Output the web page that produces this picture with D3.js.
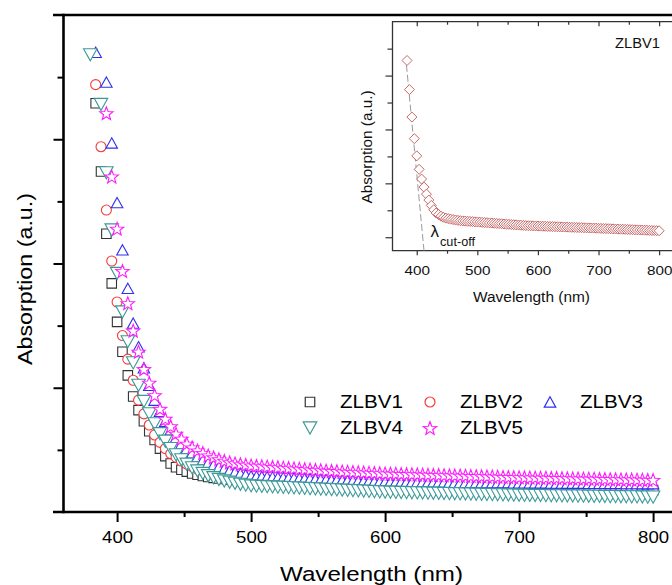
<!DOCTYPE html>
<html>
<head>
<meta charset="utf-8">
<script src="https://cdn.jsdelivr.net/npm/d3@7"></script>
<style>
  body { margin: 0; background: #fff; }
  svg { display: block; font-family: "Liberation Sans", Arial, sans-serif; }
</style>
</head>
<body>
<div id="chart"></div>
<script>
// wavelength grid (nm) shared by the five main series
var wavelengths = [
  380,384,388,392,396,400,404,408,412,416,
  420,424,428,432,436,440,444,448,452,456,
  460,464,468,472,476,480,484,488,492,496,
  500,504,508,512,516,520,524,528,532,536,
  540,544,548,552,556,560,564,568,572,576,
  580,584,588,592,596,600,604,608,612,616,
  620,624,628,632,636,640,644,648,652,656,
  660,664,668,672,676,680,684,688,692,696,
  700,704,708,712,716,720,724,728,732,736,
  740,744,748,752,756,760,764,768,772,776,
  780,784,788,792,796,800]

// absorption (a.u.), null = no point
var zlbv1 = [
  null,3.29,2.74,2.24,1.84,1.53,1.29,1.10,0.93,0.82,
  0.73,0.65,0.58,0.51,0.45,0.39,0.36,0.34,0.325,0.31,
  0.30,0.29,0.282,0.275,0.27,0.265,0.261,0.258,0.255,0.252,
  0.25,0.248,0.246,0.244,0.242,0.24,0.238,0.236,0.234,0.232,
  0.23,0.228,0.226,0.224,0.222,0.22,0.218,0.216,0.214,0.212,
  0.21,0.208,0.206,0.204,0.202,0.2,0.199,0.199,0.198,0.197,
  0.197,0.196,0.195,0.195,0.194,0.193,0.193,0.192,0.191,0.191,
  0.19,0.189,0.189,0.188,0.188,0.187,0.186,0.186,0.185,0.185,
  0.184,0.184,0.184,0.183,0.183,0.183,0.182,0.182,0.182,0.181,
  0.181,0.181,0.18,0.18,0.18,0.179,0.179,0.179,0.178,0.178,
  0.178,0.177,0.177,0.177,0.176,0.176]

var zlbv2 = [
  null,3.44,2.94,2.43,2.02,1.69,1.42,1.23,1.06,0.90,
  0.79,0.70,0.62,0.56,0.51,0.47,0.44,0.41,0.385,0.365,
  0.345,0.33,0.315,0.30,0.29,0.28,0.272,0.266,0.261,0.258,
  0.255,0.253,0.251,0.249,0.247,0.245,0.243,0.241,0.239,0.237,
  0.235,0.233,0.231,0.229,0.227,0.225,0.223,0.221,0.219,0.217,
  0.215,0.213,0.211,0.209,0.207,0.205,0.204,0.204,0.203,0.202,
  0.202,0.201,0.2,0.2,0.199,0.198,0.198,0.197,0.196,0.196,
  0.195,0.194,0.194,0.193,0.192,0.192,0.191,0.19,0.19,0.189,
  0.188,0.188,0.188,0.187,0.187,0.187,0.186,0.186,0.186,0.185,
  0.185,0.185,0.184,0.184,0.184,0.183,0.183,0.183,0.182,0.182,
  0.182,0.181,0.181,0.181,0.18,0.18]

var zlbv3 = [
  null,3.70,null,3.46,2.97,2.49,2.11,1.80,1.52,1.33,
  1.16,1.02,0.90,0.81,0.73,0.66,0.60,0.55,0.51,0.475,
  0.445,0.42,0.40,0.38,0.365,0.35,0.335,0.322,0.31,0.30,
  0.29,0.288,0.286,0.284,0.282,0.28,0.278,0.276,0.274,0.272,
  0.27,0.268,0.266,0.264,0.262,0.26,0.259,0.257,0.255,0.254,
  0.252,0.251,0.249,0.248,0.246,0.245,0.245,0.244,0.244,0.243,
  0.243,0.242,0.242,0.241,0.241,0.24,0.24,0.239,0.239,0.239,
  0.238,0.238,0.238,0.237,0.237,0.237,0.236,0.236,0.236,0.235,
  0.235,0.235,0.234,0.234,0.234,0.234,0.233,0.233,0.233,0.232,
  0.232,0.232,0.232,0.231,0.231,0.231,0.23,0.23,0.23,0.23,
  0.229,0.229,0.229,0.228,0.228,0.228]

var zlbv4 = [
  3.68,null,3.28,2.73,2.27,1.92,1.61,1.37,1.20,1.02,
  0.89,0.79,0.71,0.63,0.57,0.51,0.46,0.42,0.385,0.355,
  0.33,0.31,0.292,0.276,0.262,0.25,0.24,0.231,0.223,0.216,
  0.21,0.208,0.206,0.204,0.202,0.2,0.198,0.196,0.194,0.192,
  0.19,0.188,0.186,0.184,0.182,0.18,0.178,0.176,0.174,0.172,
  0.17,0.168,0.166,0.164,0.162,0.16,0.159,0.158,0.157,0.156,
  0.155,0.154,0.153,0.152,0.151,0.15,0.149,0.148,0.147,0.146,
  0.145,0.144,0.143,0.142,0.141,0.14,0.139,0.138,0.137,0.136,
  0.135,0.134,0.134,0.133,0.133,0.132,0.131,0.131,0.13,0.129,
  0.129,0.128,0.128,0.127,0.126,0.126,0.125,0.124,0.124,0.123,
  0.123,0.122,0.122,0.121,0.12,0.12]

var zlbv5 = [
  null,null,null,3.21,2.70,2.28,1.94,1.68,1.46,1.29,
  1.15,1.04,0.94,0.83,0.75,0.69,0.63,0.59,0.55,0.52,
  0.495,0.475,0.455,0.44,0.425,0.412,0.40,0.392,0.385,0.38,
  0.375,0.372,0.369,0.366,0.363,0.36,0.357,0.354,0.351,0.348,
  0.345,0.342,0.339,0.336,0.333,0.331,0.329,0.326,0.324,0.322,
  0.32,0.318,0.316,0.314,0.312,0.31,0.309,0.308,0.306,0.305,
  0.304,0.303,0.301,0.3,0.299,0.298,0.296,0.295,0.294,0.293,
  0.292,0.29,0.289,0.288,0.287,0.286,0.284,0.283,0.282,0.281,
  0.28,0.279,0.278,0.277,0.276,0.276,0.275,0.274,0.273,0.272,
  0.271,0.27,0.269,0.269,0.268,0.267,0.266,0.265,0.264,0.263,
  0.262,0.262,0.261,0.26,0.259,0.258]

var seriesNames = ['ZLBV1', 'ZLBV2', 'ZLBV3', 'ZLBV4', 'ZLBV5']
var xTicks = [400, 500, 600, 700, 800]
var xMinorTicks = [450, 550, 650, 750]
var yTicks = [1, 2, 3]
var yMinorTicks = [0.5, 1.5, 2.5, 3.5]

// inset: ZLBV1 alone
var insetWavelengths = [
  384,388,392,396,400,404,408,412,416,420,
  424,428,432,436,440,444,448,452,456,460,
  464,468,472,476,480,484,488,492,496,500,
  504,508,512,516,520,524,528,532,536,540,
  544,548,552,556,560,564,568,572,576,580,
  584,588,592,596,600,604,608,612,616,620,
  624,628,632,636,640,644,648,652,656,660,
  664,668,672,676,680,684,688,692,696,700,
  704,708,712,716,720,724,728,732,736,740,
  744,748,752,756,760,764,768,772,776,780,
  784,788,792,796,800]

var insetAbs = [
  4.28,3.74,3.23,2.83,2.51,2.26,2.08,1.93,1.80,1.69,
  1.59,1.51,1.45,1.42,1.39,1.37,1.355,1.345,1.335,1.328,
  1.32,1.313,1.307,1.303,1.30,1.296,1.293,1.29,1.286,1.283,
  1.28,1.276,1.273,1.27,1.266,1.263,1.26,1.256,1.253,1.25,
  1.246,1.243,1.24,1.236,1.233,1.23,1.226,1.223,1.22,1.216,
  1.214,1.213,1.211,1.209,1.208,1.206,1.204,1.203,1.201,1.199,
  1.198,1.196,1.194,1.193,1.191,1.189,1.188,1.186,1.184,1.183,
  1.181,1.179,1.178,1.176,1.174,1.173,1.171,1.17,1.168,1.166,
  1.164,1.162,1.161,1.159,1.157,1.155,1.153,1.151,1.149,1.148,
  1.146,1.144,1.142,1.14,1.138,1.136,1.135,1.133,1.131,1.129,
  1.127,1.125,1.123,1.122,1.12]

var insetYTicks = [1, 2, 3, 4]
var insetYMinorTicks = [1.5, 2.5, 3.5, 4.5]
// tangent used for the cut-off wavelength: [nm, a.u.]
var cutoffLine = [[383, 4.2], [412, 0.75]];

(function(){
  var W = 672, H = 585

  var svg = d3.select('#chart').append('svg').attr('width', W).attr('height', H)

  // marker outlines, centred on their box
  var shapes = {
    square: function(s) { var h = s / 2; return 'M' + -h + ',' + -h + 'H' + h + 'V' + h + 'H' + -h + 'Z' },
    circle: function(s) { var r = s / 2; return 'M' + r + ',0A' + r + ',' + r + ' 0 1,1 ' + -r + ',0A' + r + ',' + r + ' 0 1,1 ' + r + ',0Z' },
    up: function(s) { var w = s / 2, h = s * 0.45; return 'M0,' + -h + 'L' + w + ',' + h + 'L' + -w + ',' + h + 'Z' },
    down: function(s) { var w = s / 2, h = s * 0.45; return 'M0,' + h + 'L' + w + ',' + -h + 'L' + -w + ',' + -h + 'Z' },
    star: function(s) {
      var R = s / 2, r = R * 0.42, dy = R * 0.095, p = []
      for (var i = 0; i < 10; i++) {
        var a = Math.PI / 5 * i - Math.PI / 2, rr = i % 2 ? r : R
        p.push((rr * Math.cos(a)).toFixed(2) + ',' + (rr * Math.sin(a) + dy).toFixed(2))
      }
      return 'M' + p.join('L') + 'Z'
    },
    diamond: function(s) { var h = s / 2; return 'M0,' + -h + 'L' + h + ',0L0,' + h + 'L' + -h + ',0Z' }
  }

  var series = [
    { name: seriesNames[0], values: zlbv1, shape: 'square', size: 9.5, color: '#333333' },
    { name: seriesNames[1], values: zlbv2, shape: 'circle', size: 10, color: '#f23b3b' },
    { name: seriesNames[2], values: zlbv3, shape: 'up', size: 11.5, color: '#2f2ff0' },
    { name: seriesNames[3], values: zlbv4, shape: 'down', size: 13.5, color: '#3a9898' },
    { name: seriesNames[4], values: zlbv5, shape: 'star', size: 14, color: '#ff1cff' }
  ]

  /* ---------- main plot ---------- */
  var x = d3.scaleLinear().domain([360, 820]).range([63.5, 679.9])
  var y = d3.scaleLinear().domain([0, 4]).range([512, 15])

  var axisColor = '#000'

  // x ticks + labels
  var xa = svg.append('g').attr('transform', 'translate(0,512)')
    .call(d3.axisBottom(x).tickValues(xTicks).tickSize(10).tickSizeOuter(0).tickPadding(9.5))
  xa.select('.domain').remove()
  xa.selectAll('line').attr('stroke', axisColor).attr('stroke-width', 2)
  xa.selectAll('text').attr('fill', '#000').style('font-size', '16.5px')
    .attr('textLength', 31).attr('lengthAdjust', 'spacingAndGlyphs')

  var xm = svg.append('g').attr('transform', 'translate(0,512)')
    .call(d3.axisBottom(x).tickValues(xMinorTicks).tickSize(5).tickFormat(''))
  xm.select('.domain').remove()
  xm.selectAll('line').attr('stroke', axisColor).attr('stroke-width', 2)

  // y ticks (no labels)
  var ya = svg.append('g').attr('transform', 'translate(' + x(360) + ',0)')
    .call(d3.axisLeft(y).tickValues(yTicks).tickSize(10).tickFormat(''))
  ya.select('.domain').remove()
  ya.selectAll('line').attr('stroke', axisColor).attr('stroke-width', 2)

  var ym = svg.append('g').attr('transform', 'translate(' + x(360) + ',0)')
    .call(d3.axisLeft(y).tickValues(yMinorTicks).tickSize(6).tickFormat(''))
  ym.select('.domain').remove()
  ym.selectAll('line').attr('stroke', axisColor).attr('stroke-width', 2)

  // frame lines
  svg.append('line').attr('x1', 53).attr('x2', W).attr('y1', y(4)).attr('y2', y(4))
    .attr('stroke', axisColor).attr('stroke-width', 2.6)
  svg.append('line').attr('x1', 53).attr('x2', W).attr('y1', y(0)).attr('y2', y(0))
    .attr('stroke', axisColor).attr('stroke-width', 2.6)
  svg.append('line').attr('x1', x(360)).attr('x2', x(360)).attr('y1', y(4) - 1.3).attr('y2', y(0) + 1.3)
    .attr('stroke', axisColor).attr('stroke-width', 2.6)

  // titles
  svg.append('text').attr('x', 371.5).attr('y', 581).attr('text-anchor', 'middle')
    .style('font-size', '20.5px').attr('textLength', 183).attr('lengthAdjust', 'spacingAndGlyphs')
    .text('Wavelength (nm)')
  svg.append('text').attr('transform', 'translate(32,279) rotate(-90)').attr('text-anchor', 'middle')
    .style('font-size', '21px').attr('textLength', 172).attr('lengthAdjust', 'spacingAndGlyphs')
    .text('Absorption (a.u.)')

  // markers, series by series
  series.forEach(function(s) {
    var pts = wavelengths.map(function(w, i) { return [w, s.values[i]] })
      .filter(function(d) { return d[1] != null })
    svg.append('g').selectAll('path')
      .data(pts)
      .enter()
      .append('path')
      .attr('d', shapes[s.shape](s.size))
      .attr('transform', function(d) { return 'translate(' + x(d[0]) + ',' + y(d[1]) + ')' })
      .attr('fill', '#fff')
      .attr('stroke', s.color)
      .attr('stroke-width', 1.1)
  })

  // legend
  var legX = [310, 430, 550], legY = [402, 428]
  var leg = svg.append('g')
  series.forEach(function(s, i) {
    var cx = legX[i % 3], cy = legY[Math.floor(i / 3)]
    leg.append('path').attr('d', shapes[s.shape](s.size))
      .attr('transform', 'translate(' + cx + ',' + cy + ')')
      .attr('fill', '#fff').attr('stroke', s.color).attr('stroke-width', 1.2)
    leg.append('text').attr('x', cx + 30).attr('y', cy + 6.3)
      .style('font-size', '17.5px').attr('textLength', 63).attr('lengthAdjust', 'spacingAndGlyphs')
      .text(s.name)
  })

  /* ---------- inset ---------- */
  var ix = d3.scaleLinear().domain([360, 830]).range([392.5, 677.3])
  var iy = d3.scaleLinear().domain([0.75, 5.0]).range([250.7, 21.7])
  var inset = svg.append('g')
  var insetColor = '#333'

  var ixa = inset.append('g').attr('transform', 'translate(0,' + iy(0.75) + ')')
    .call(d3.axisBottom(ix).tickValues(xTicks).tickSize(4.5).tickPadding(11))
  ixa.select('.domain').remove()
  ixa.selectAll('line').attr('stroke', insetColor).attr('stroke-width', 1.2)
  ixa.selectAll('text').attr('fill', '#111').style('font-size', '13px')
    .attr('textLength', 25.5).attr('lengthAdjust', 'spacingAndGlyphs')
  var ixm = inset.append('g').attr('transform', 'translate(0,' + iy(0.75) + ')')
    .call(d3.axisBottom(ix).tickValues(xMinorTicks).tickSize(3).tickFormat(''))
  ixm.select('.domain').remove()
  ixm.selectAll('line').attr('stroke', insetColor).attr('stroke-width', 1.2)

  // mirrored ticks on the top edge, pointing in
  var ixt = inset.append('g').attr('transform', 'translate(0,' + iy(5.0) + ')')
    .call(d3.axisTop(ix).tickValues(xTicks).tickSize(-4.5).tickFormat(''))
  ixt.select('.domain').remove()
  ixt.selectAll('line').attr('stroke', insetColor).attr('stroke-width', 1.2)
  var ixtm = inset.append('g').attr('transform', 'translate(0,' + iy(5.0) + ')')
    .call(d3.axisTop(ix).tickValues(xMinorTicks).tickSize(-3).tickFormat(''))
  ixtm.select('.domain').remove()
  ixtm.selectAll('line').attr('stroke', insetColor).attr('stroke-width', 1.2)

  var iya = inset.append('g').attr('transform', 'translate(' + ix(360) + ',0)')
    .call(d3.axisLeft(iy).tickValues(insetYTicks).tickSize(7).tickFormat(''))
  iya.select('.domain').remove()
  iya.selectAll('line').attr('stroke', insetColor).attr('stroke-width', 1.2)
  var iym = inset.append('g').attr('transform', 'translate(' + ix(360) + ',0)')
    .call(d3.axisLeft(iy).tickValues(insetYMinorTicks).tickSize(5).tickFormat(''))
  iym.select('.domain').remove()
  iym.selectAll('line').attr('stroke', insetColor).attr('stroke-width', 1.2)

  inset.append('path')
    .attr('d', 'M' + W + ',' + iy(5.0) + 'H' + ix(360) + 'V' + iy(0.75) + 'H' + W)
    .attr('fill', 'none').attr('stroke', insetColor).attr('stroke-width', 1.3)

  inset.append('text').attr('x', 531.5).attr('y', 301.7).attr('text-anchor', 'middle')
    .style('font-size', '15.5px').attr('fill', '#111')
    .attr('textLength', 117).attr('lengthAdjust', 'spacingAndGlyphs')
    .text('Wavelength (nm)')
  inset.append('text').attr('transform', 'translate(372,147) rotate(-90)').attr('text-anchor', 'middle')
    .style('font-size', '15.5px').attr('fill', '#111')
    .attr('textLength', 113).attr('lengthAdjust', 'spacingAndGlyphs')
    .text('Absorption (a.u.)')
  inset.append('text').attr('x', 615).attr('y', 48.3)
    .style('font-size', '14px').attr('fill', '#111')
    .attr('textLength', 45).attr('lengthAdjust', 'spacingAndGlyphs')
    .text(seriesNames[0])

  // cut-off tangent
  inset.append('path')
    .attr('d', d3.line().x(function(d) { return ix(d[0]) }).y(function(d) { return iy(d[1]) })(cutoffLine))
    .attr('fill', 'none').attr('stroke', '#9a9a9a').attr('stroke-width', 1).attr('stroke-dasharray', '7,3')

  inset.append('g').selectAll('path')
    .data(insetWavelengths.map(function(w, i) { return [w, insetAbs[i]] }))
    .enter()
    .append('path')
    .attr('d', shapes.diamond(10))
    .attr('transform', function(d) { return 'translate(' + ix(d[0]) + ',' + iy(d[1]) + ')' })
    .attr('fill', '#fff')
    .attr('stroke', '#bf5656')
    .attr('stroke-width', 0.9)

  var lam = inset.append('text').attr('x', 430.5).attr('y', 237).attr('fill', '#111')
  lam.append('tspan').style('font-size', '17px').text('λ')
  lam.append('tspan').attr('x', 440).attr('y', 245.5).style('font-size', '12.5px')
    .attr('textLength', 35).attr('lengthAdjust', 'spacingAndGlyphs').text('cut-off')
})()
</script>
</body>
</html>
